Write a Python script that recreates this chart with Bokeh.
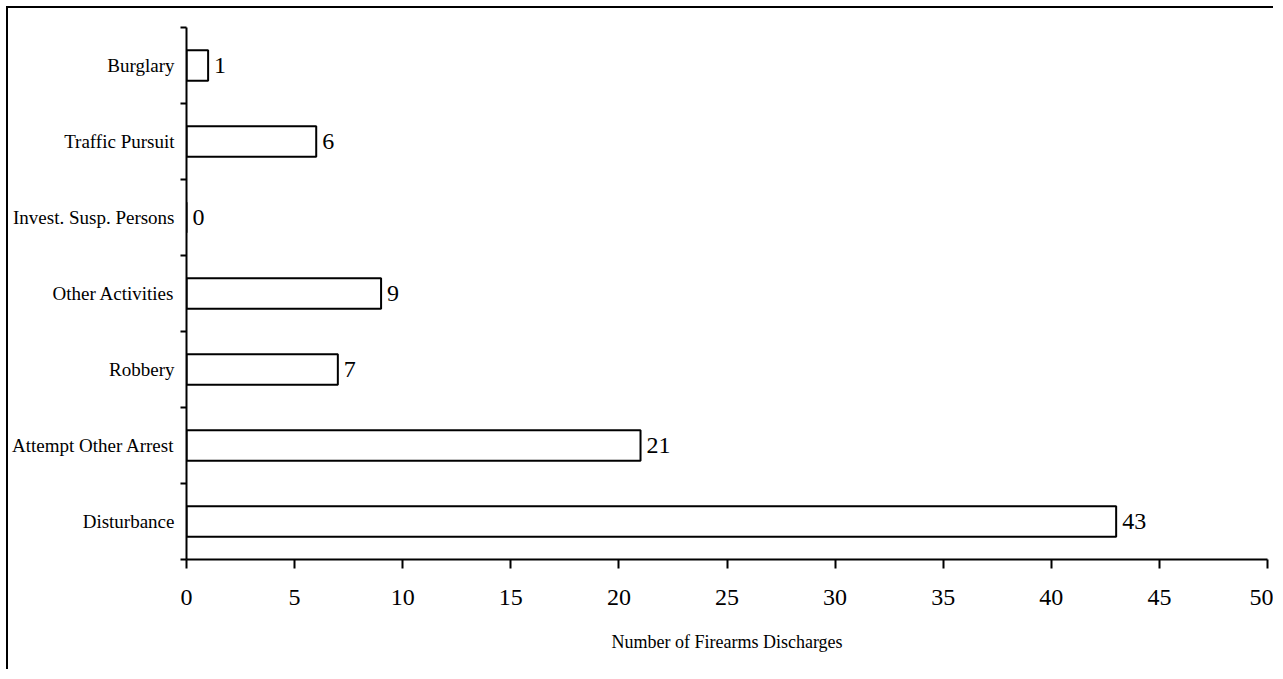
from bokeh.plotting import figure
from bokeh.models import Range1d, FixedTicker, ColumnDataSource
from bokeh.core.properties import value
from bokeh.embed import file_html
from bokeh.resources import INLINE

categories = ["Disturbance", "Attempt Other Arrest", "Robbery", "Other Activities",
              "Invest. Susp. Persons", "Traffic Pursuit", "Burglary"]
counts = [43, 21, 7, 9, 0, 6, 1]
x_ticks = [0, 5, 10, 15, 20, 25, 30, 35, 40, 45, 50]
x_title = "Number of Firearms Discharges"

FONT = "Liberation Serif"

centers = [i + 0.5 for i in range(len(categories))]
src = ColumnDataSource(dict(y=centers, x=counts, lab=[str(c) for c in counts]))

p = figure(width=1267, height=663, output_backend="svg", toolbar_location=None,
           x_range=Range1d(0, 50), y_range=Range1d(0, len(categories)),
           min_border_left=178, min_border_right=8, min_border_top=19, min_border_bottom=112)
p.styles = {"border-top": "2px solid black", "border-left": "2px solid black",
            "margin-top": "6px", "margin-left": "6px"}
p.outline_line_color = None
p.xgrid.visible = False
p.ygrid.visible = False
p.background_fill_color = "white"
p.border_fill_color = "white"

p.hbar(y="y", right="x", left=0, height=0.4, source=src,
       fill_color="white", line_color="black", line_width=2)
p.text(x="x", y="y", text="lab", source=src, x_offset=6,
       text_font=value(FONT), text_font_size="24px", text_baseline="middle",
       text_align="left", text_color="black")

xa = p.xaxis[0]
xa.ticker = FixedTicker(ticks=x_ticks)
xa.major_tick_out = 9
xa.major_tick_in = 0
xa.minor_tick_out = 0
xa.minor_tick_in = 0
xa.axis_line_width = 2
xa.major_tick_line_width = 2
xa.major_label_text_font = FONT
xa.major_label_text_font_size = "24px"
xa.major_label_text_color = "black"
xa.major_label_standoff = 21
xa.axis_label = x_title
xa.axis_label_text_font = FONT
xa.axis_label_text_font_size = "18px"
xa.axis_label_text_font_style = "normal"
xa.axis_label_text_color = "black"
xa.axis_label_standoff = 24

ya = p.yaxis[0]
ya.ticker = FixedTicker(ticks=centers, minor_ticks=list(range(len(categories) + 1)))
ya.major_label_overrides = {c: name for c, name in zip(centers, categories)}
ya.major_tick_out = 0
ya.major_tick_in = 0
ya.minor_tick_out = 6
ya.minor_tick_in = 0
ya.minor_tick_line_width = 2
ya.axis_line_width = 2
ya.major_label_text_font = FONT
ya.major_label_text_font_size = "19px"
ya.major_label_text_color = "black"
ya.major_label_standoff = 6

open("out.html", "w").write(file_html(p, INLINE))
